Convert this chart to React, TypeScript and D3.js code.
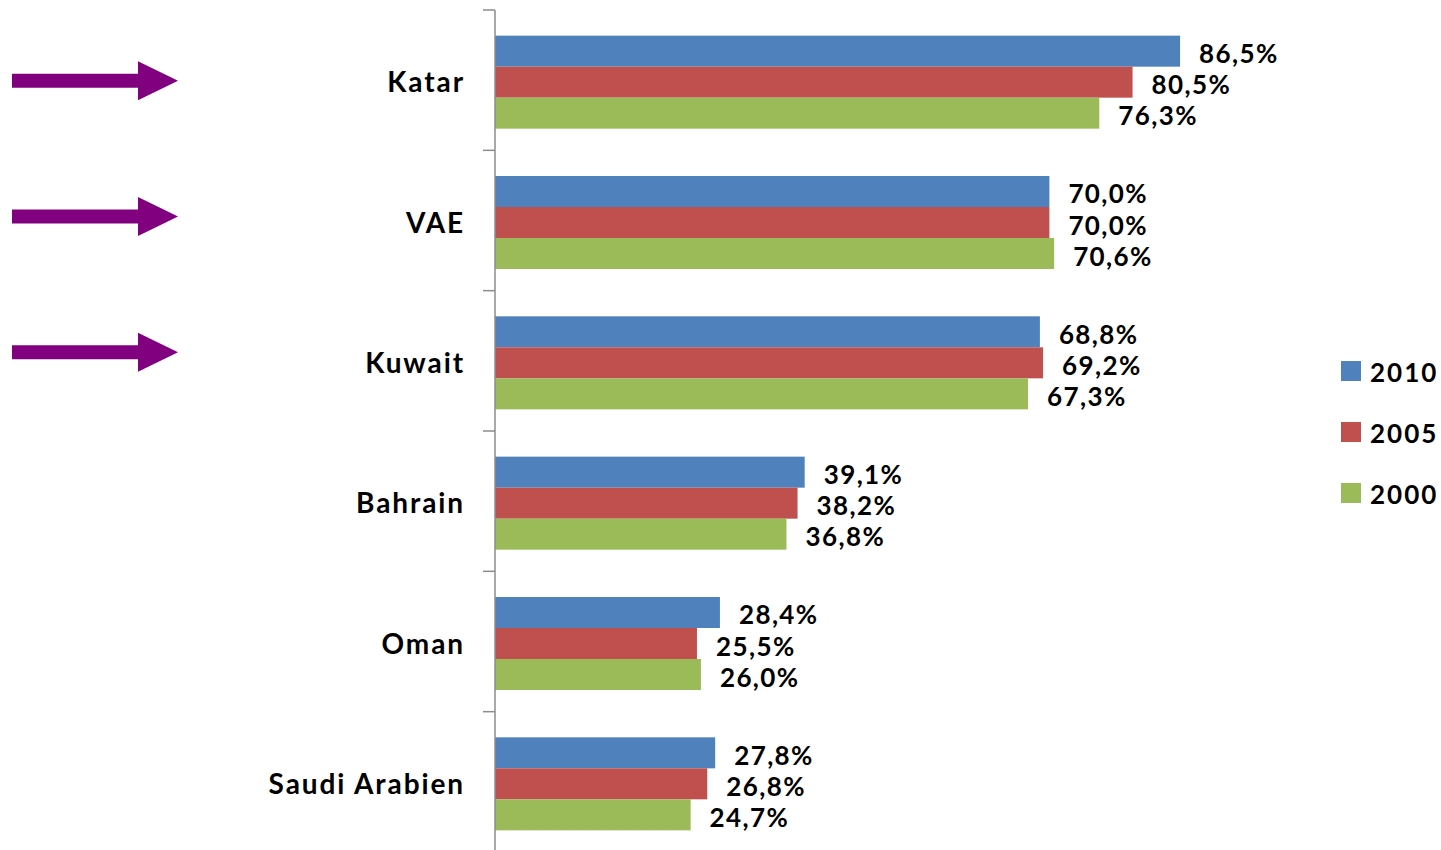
import React from 'react';
import * as d3 from 'd3';

const categories = ['Katar', 'VAE', 'Kuwait', 'Bahrain', 'Oman', 'Saudi Arabien'];
const seriesNames = ['2010', '2005', '2000'];
const values2010 = [86.5, 70.0, 68.8, 39.1, 28.4, 27.8];
const values2005 = [80.5, 70.0, 69.2, 38.2, 25.5, 26.8];
const values2000 = [76.3, 70.6, 67.3, 36.8, 26.0, 24.7];
const seriesColors = ['#4F81BD', '#C0504D', '#9BBB59'];
const highlighted = ['Katar', 'VAE', 'Kuwait'];

const W = 1441;
const H = 850;
const FONT = 'Lato, "Open Sans", sans-serif';

export default function App() {
  const series = [values2010, values2005, values2000];
  const axisX = 495;
  const y = d3.scaleBand<string>().domain(categories).range([10, 852]).paddingInner(0).paddingOuter(0);
  const bw = y.bandwidth();
  const ySub = d3.scaleBand<string>().domain(seriesNames).range([2, bw + 2]).paddingInner(0).paddingOuter(0.763);
  const x = d3.scaleLinear().domain([0, 100]).range([axisX, axisX + 792]);
  const fmt = (v: number) => v.toFixed(1).replace('.', ',') + '%';

  const tickYs = categories.map((c) => y(c) as number);

  return (
    <svg width={W} height={H} style={{ position: 'absolute', left: 0, top: 0, background: '#fff' }}>
      {/* arrows */}
      {highlighted.map((c, i) => {
        const cy = (y(c) as number) + bw / 2 - i * 4.5 + 0.5;
        const path = d3.path();
        path.moveTo(12, cy - 7);
        path.lineTo(138, cy - 7);
        path.lineTo(138, cy - 19.5);
        path.lineTo(178, cy);
        path.lineTo(138, cy + 19.5);
        path.lineTo(138, cy + 7);
        path.lineTo(12, cy + 7);
        path.closePath();
        return <path key={c} d={path.toString()} fill="#800080" />;
      })}

      {/* bars */}
      {categories.map((c, ci) => (
        <g key={c}>
          {seriesNames.map((s, si) => {
            const v = series[si][ci];
            const by = (y(c) as number) + (ySub(s) as number);
            return (
              <g key={s}>
                <rect x={axisX} y={by} width={x(v) - axisX} height={ySub.bandwidth()} fill={seriesColors[si]} />
                <text
                  x={x(v) + 19}
                  y={by + ySub.bandwidth() / 2 + 2}
                  dominantBaseline="central"
                  fontFamily={FONT}
                  fontWeight={700}
                  fontSize={26}
                  letterSpacing={1.4}
                  fill="#000"
                >
                  {fmt(v)}
                </text>
              </g>
            );
          })}
          <text
            x={465}
            y={(y(c) as number) + bw / 2 + 1}
            textAnchor="end"
            dominantBaseline="central"
            fontFamily={FONT}
            fontWeight={700}
            fontSize={28}
            letterSpacing={1.9}
            fill="#000"
          >
            {c}
          </text>
        </g>
      ))}

      {/* axis */}
      <line x1={axisX} x2={axisX} y1={10} y2={852} stroke="#8c8c8c" strokeWidth={1.5} />
      {tickYs.map((ty, i) => (
        <line key={i} x1={483} x2={axisX} y1={ty} y2={ty} stroke="#8c8c8c" strokeWidth={1.5} />
      ))}

      {/* legend */}
      {seriesNames.map((s, i) => (
        <g key={s} transform={`translate(1341, ${371 + i * 61})`}>
          <rect x={0} y={-10} width={20} height={20} fill={seriesColors[i]} />
          <text x={29} y={1} dominantBaseline="central" fontFamily={FONT} fontWeight={700} fontSize={26} letterSpacing={2} fill="#000">
            {s}
          </text>
        </g>
      ))}
    </svg>
  );
}
